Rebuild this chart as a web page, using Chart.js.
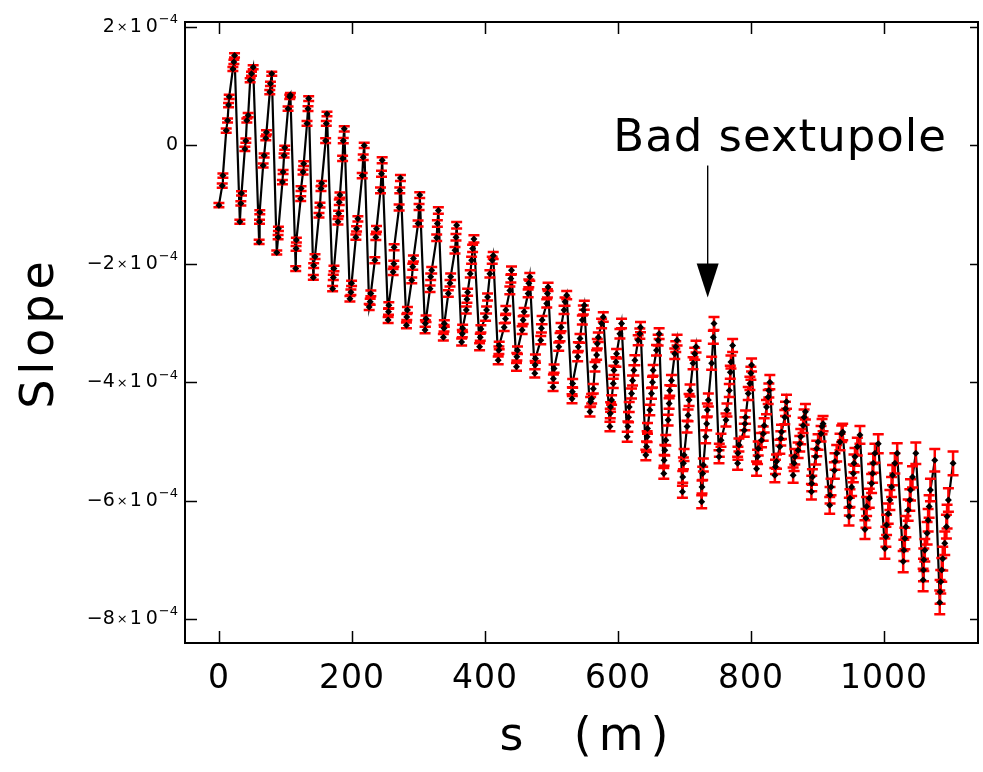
<!DOCTYPE html>
<html><head><meta charset="utf-8">
<script src="https://cdn.jsdelivr.net/npm/chart.js@4.4.1/dist/chart.umd.min.js"></script>
<style>html,body{margin:0;padding:0;background:#fff;overflow:hidden}canvas{display:block}</style>
</head><body>
<canvas id="c" width="983" height="772"></canvas>
<script>
// Positions along the ring (m), grouped by cell
const sByCell = [
 [0,5,6,11,13,14.5,15.5,21,22.5,23.5],
 [31.5,33,34,39,40.5,42,44,47,49,51.5],
 [60.5,61,61.5,66.5,68,70.5,71.5,76.5,77.5,79.5],
 [87,89,89.5,95.5,96.5,98,99,104,106.5,107.5],
 [115.5,116,116.5,123,123.5,126.5,127.5,132.5,134,135],
 [142,142.5,144.5,150.5,152,153.5,154.5,160.5,161.5,162.5],
 [171,172,173,179,180,181,182,186,187,188.5],
 [197,198.5,199.5,206,207,209,215.5,217,218.5],
 [226,227.5,228.5,234.5,236,237,243,244.5,245.5],
 [254.5,255,255.5,262,263,263.5,271,272,273],
 [282,282.5,283.5,290,291.5,292.5,299.5,301,302],
 [310,310.5,311.5,317.5,318.5,320,327.5,328.5,330],
 [337.5,338.5,339,345,347.5,348.5,355,356.5,357.5],
 [365,366,366.5,372,373,374,378,380,381.5,383.5],
 [392,393,394,401,402.5,404,407.5,411,412.5],
 [420,421,421.5,429,431,431.5,437.5,439,440],
 [447.5,448,449,456,457.5,459,465,466,467.5],
 [475,475.5,476,484,485,486,493,494,495],
 [502.5,503,504,511,513,514.5,519,520.5,523],
 [531,531.5,532,539.5,540.5,543,546.5,548,549.5],
 [558,559,560.5,563,565.5,568,569,570.5,575.5,578],
 [588,588.5,589,590.5,593,594,597,598,603,605.5],
 [614,615,616,617,620.5,622,624,625.5,630.5,633,634],
 [642,643,644,644.5,648,650.5,652,653,658,660.5,662],
 [669,669.5,670.5,672,675.5,677,678,680.5,685.5,687,689],
 [697,697.5,698.5,699.5,704,705.5,707,708.5,713,715.5,717.5],
 [726,726.5,727.5,728.5,732,733.5,734.5,736,741,743.5,744.5],
 [752,752.5,755,762.5,764,767.5,769,770,772.5],
 [780,780.5,782,790,791,792,796,798.5,800,801],
 [808.5,810,811,816,818.5,820,823.5,826,827,828.5],
 [836,837,838.5,843.5,845,846,851,852,853.5],
 [863.5,865,866,871,873.5,875,878.5,880,882],
 [891,891.5,892.5,897.5,899,901,905.5,907,908.5],
 [918.5,919,920.5,925.5,926.5,929,934,936.5,938],
 [947.5,948,949,951.5,954,955,956.5,960,964],
 [971.5,973,974,978,981.5,983,984,986.5,991.5],
 [1001.5,1003,1004,1006.5,1009,1011.5,1013,1016.5,1020],
 [1029,1030,1031.5,1033,1036.5,1039,1040,1043,1048],
 [1059,1059.5,1060,1061.5,1065,1066.5,1068,1070,1076.5],
 [1084,1084.5,1085.5,1087,1088.5,1091.5,1094,1095,1097,1104]
];
// Slope values, in units of 1e-4, grouped by cell
const slopeByCell = [
 [-1.01,-0.68,-0.51,0.25,0.42,0.68,0.82,1.29,1.41,1.52],
 [-1.29,-0.98,-0.81,-0.06,0.08,0.42,0.51,1.10,1.21,1.32],
 [-1.63,-1.29,-1.13,-0.34,-0.17,0.12,0.22,0.90,1.04,1.21],
 [-1.81,-1.55,-1.41,-0.62,-0.45,-0.17,-0.04,0.62,0.82,0.85],
 [-2.08,-1.74,-1.60,-0.90,-0.73,-0.45,-0.31,0.37,0.62,0.79],
 [-2.23,-2.03,-1.88,-1.18,-1.01,-0.73,-0.64,0.08,0.37,0.53],
 [-2.42,-2.23,-2.08,-1.29,-1.15,-0.96,-0.84,-0.22,0.08,0.28],
 [-2.59,-2.48,-2.33,-1.55,-1.41,-1.24,-0.51,-0.20,0.00],
 [-2.73,-2.64,-2.50,-1.94,-1.55,-1.41,-0.76,-0.48,-0.25],
 [-2.95,-2.81,-2.70,-2.14,-2.00,-1.72,-1.05,-0.76,-0.55],
 [-3.04,-2.90,-2.78,-2.28,-2.05,-1.91,-1.32,-1.04,-0.84],
 [-3.12,-3.01,-2.93,-2.42,-2.22,-2.11,-1.56,-1.32,-1.10],
 [-3.24,-3.09,-3.01,-2.50,-2.33,-2.22,-1.77,-1.55,-1.35],
 [-3.32,-3.18,-3.09,-2.78,-2.60,-2.48,-2.17,-1.94,-1.74,-1.58],
 [-3.40,-3.24,-3.10,-2.90,-2.78,-2.56,-2.17,-1.94,-1.86],
 [-3.63,-3.46,-3.38,-3.07,-2.93,-2.78,-2.45,-2.25,-2.11],
 [-3.74,-3.57,-3.46,-3.12,-2.95,-2.81,-2.50,-2.33,-2.22],
 [-3.85,-3.71,-3.60,-3.29,-3.09,-2.95,-2.67,-2.50,-2.39],
 [-4.08,-3.94,-3.77,-3.40,-3.24,-3.07,-2.78,-2.64,-2.53],
 [-4.28,-4.16,-4.02,-3.57,-3.40,-3.26,-2.95,-2.78,-2.70],
 [-4.50,-4.33,-4.28,-4.11,-3.74,-3.54,-3.35,-3.24,-3.01,-2.90],
 [-4.75,-4.53,-4.42,-4.30,-4.02,-3.80,-3.66,-3.52,-3.18,-3.01],
 [-4.92,-4.75,-4.59,-4.42,-4.19,-3.97,-3.80,-3.63,-3.29,-3.18,-3.07],
 [-5.23,-5.09,-4.92,-4.78,-4.47,-4.19,-4.00,-3.80,-3.46,-3.29,-3.18],
 [-5.54,-5.32,-5.15,-4.98,-4.64,-4.36,-4.14,-3.97,-3.52,-3.40,-3.29],
 [-5.85,-5.60,-5.37,-5.23,-4.75,-4.56,-4.30,-4.14,-3.68,-3.52,-3.40],
 [-6.02,-5.77,-5.54,-5.40,-4.92,-4.70,-4.47,-4.30,-3.68,-3.24,-3.01],
 [-5.26,-5.15,-4.98,-4.64,-4.47,-4.14,-3.83,-3.66,-3.38],
 [-5.37,-5.20,-5.06,-4.81,-4.70,-4.59,-4.19,-4.02,-3.85,-3.71],
 [-5.46,-5.26,-5.12,-4.98,-4.87,-4.73,-4.42,-4.25,-4.14,-4.00],
 [-5.57,-5.43,-5.34,-5.09,-4.95,-4.84,-4.59,-4.45,-4.33],
 [-5.57,-5.37,-5.26,-5.15,-5.04,-4.92,-4.73,-4.59,-4.50],
 [-5.85,-5.71,-5.60,-5.26,-5.12,-5.01,-4.87,-4.75,-4.70],
 [-6.08,-5.91,-5.77,-5.49,-5.34,-5.20,-5.01,-4.87,-4.84],
 [-6.27,-6.10,-5.96,-5.77,-5.54,-5.37,-5.26,-5.09,-4.89],
 [-6.49,-6.30,-6.10,-5.96,-5.71,-5.54,-5.37,-5.20,-5.04],
 [-6.81,-6.61,-6.41,-6.22,-5.99,-5.77,-5.57,-5.37,-5.20],
 [-7.03,-6.84,-6.64,-6.44,-6.16,-5.99,-5.82,-5.60,-5.20],
 [-7.34,-7.17,-7.00,-6.84,-6.55,-6.33,-6.10,-5.82,-5.32],
 [-7.72,-7.54,-7.37,-7.17,-6.98,-6.72,-6.44,-6.27,-5.99,-5.37]
];
// Measurement error (half height, units of 1e-4) per cell
const sigmaByCell = [
 0.035,0.035,0.035,0.035,0.04, 0.04,0.045,0.045,0.05,0.05,
 0.05,0.055,0.055,0.06,0.06, 0.065,0.065,0.07,0.07,0.075,
 0.08,0.08,0.085,0.09,0.09, 0.1,0.11,0.11,0.11,0.12,
 0.12,0.13,0.13,0.14,0.15, 0.16,0.17,0.18,0.19,0.2
];
const xTickValues = [0,200,400,600,800,1000];
const xTickLabels = ['0','200','400','600','800','1000'];
const yTickValues = [2,0,-2,-4,-6,-8];
const yTickMantissa = ['2','0','\u22122','\u22124','\u22126','\u22128'];
const xTitle = 's  (m)';
const yTitle = 'Slope';
const annotationText = 'Bad sextupole';
const arrowS = 735;          // arrow location along s (m)
const arrowFrom = -0.34;     // arrow tail (1e-4)
const arrowTo = -2.57;       // arrow tip (1e-4)
const annotationS = 844;     // text centre (m)
const annotationY = -0.09;   // text baseline (1e-4)

const points = [];
sByCell.forEach((arr, c) => arr.forEach((s, i) => points.push({x: s, y: slopeByCell[c][i], e: sigmaByCell[c]})));

const FONT = '"DejaVu Sans", "Liberation Sans", sans-serif';

function drawPieces(ctx, pieces, xRight, y) {
  let total = 0;
  pieces.forEach(p => { ctx.font = p.font; p.w = ctx.measureText(p.t).width; total += p.w + (p.gap || 0); });
  let x = xRight - total;
  ctx.textAlign = 'left'; ctx.textBaseline = 'middle';
  pieces.forEach(p => { x += (p.gap || 0); ctx.font = p.font; ctx.fillText(p.t, x, y + (p.dy || 0)); x += p.w; });
}

function spaced(ctx, px) { if ('letterSpacing' in ctx) ctx.letterSpacing = px + 'px'; }

const decor = {
  id: 'decor',
  beforeDatasetDraw(chart, args) {
    if (args.index !== 0) return;
    const ctx = chart.ctx, xs = chart.scales.x, ys = chart.scales.y;
    ctx.save();
    ctx.strokeStyle = '#ff0000'; ctx.lineWidth = 2.5;
    ctx.beginPath();
    for (const p of points) {
      const px = xs.getPixelForValue(p.x);
      const y1 = ys.getPixelForValue(p.y + p.e), y2 = ys.getPixelForValue(p.y - p.e);
      ctx.moveTo(px, y1); ctx.lineTo(px, y2);
      ctx.moveTo(px - 5.5, y1); ctx.lineTo(px + 5.5, y1);
      ctx.moveTo(px - 5.5, y2); ctx.lineTo(px + 5.5, y2);
    }
    ctx.stroke();
    ctx.restore();
  },
  afterDraw(chart) {
    const ctx = chart.ctx, xs = chart.scales.x, ys = chart.scales.y, a = chart.chartArea;
    ctx.save();
    // frame
    ctx.strokeStyle = '#000'; ctx.lineWidth = 2;
    ctx.strokeRect(a.left, a.top, a.right - a.left, a.bottom - a.top);
    // ticks inside
    ctx.lineWidth = 1.5; ctx.beginPath();
    xTickValues.forEach(v => {
      const px = Math.round(xs.getPixelForValue(v)) + 0.5;
      ctx.moveTo(px, a.bottom); ctx.lineTo(px, a.bottom - 12);
      ctx.moveTo(px, a.top); ctx.lineTo(px, a.top + 12);
    });
    yTickValues.forEach(v => {
      const py = Math.round(ys.getPixelForValue(v)) + 0.5;
      ctx.moveTo(a.left, py); ctx.lineTo(a.left + 12, py);
      ctx.moveTo(a.right, py); ctx.lineTo(a.right - 8, py);
    });
    ctx.stroke();
    // x tick labels
    ctx.fillStyle = '#000';
    spaced(ctx, 1);
    ctx.font = '33px ' + FONT; ctx.textAlign = 'center'; ctx.textBaseline = 'top';
    xTickValues.forEach((v, i) => ctx.fillText(xTickLabels[i], xs.getPixelForValue(v), a.bottom + 20));
    spaced(ctx, 0);
    // y tick labels (scientific)
    const big = '19px ' + FONT, small = '13px ' + FONT;
    yTickValues.forEach((v, i) => {
      const py = ys.getPixelForValue(v);
      const m = yTickMantissa[i];
      const pieces = m === '0' ? [{t: '0', font: big}] : [
        {t: m, font: big}, {t: '\u00d7', font: small, gap: 2, dy: 1},
        {t: '1', font: big, gap: 2}, {t: '0', font: big, gap: 4},
        {t: '\u22124', font: small, gap: 1, dy: -7}];
      drawPieces(ctx, pieces, a.left - 7, py);
    });
    // axis titles
    spaced(ctx, 7);
    ctx.font = '46px ' + FONT; ctx.textAlign = 'center'; ctx.textBaseline = 'alphabetic';
    ctx.fillText(xTitle, (a.left + a.right) / 2 + 6, 750);
    ctx.save();
    ctx.translate(53, (a.top + a.bottom) / 2); ctx.rotate(-Math.PI / 2);
    spaced(ctx, 5);
    ctx.font = '46px ' + FONT;
    ctx.fillText(yTitle, 0, 0);
    ctx.restore();
    // annotation
    const ax = xs.getPixelForValue(arrowS);
    const y0 = ys.getPixelForValue(arrowFrom), yTip = ys.getPixelForValue(arrowTo);
    ctx.lineWidth = 1.4; ctx.beginPath(); ctx.moveTo(ax, y0); ctx.lineTo(ax, yTip - 30); ctx.stroke();
    ctx.beginPath(); ctx.moveTo(ax - 11, yTip - 34); ctx.lineTo(ax + 11, yTip - 34); ctx.lineTo(ax, yTip); ctx.closePath(); ctx.fill();
    spaced(ctx, 1);
    ctx.font = '45px ' + FONT; ctx.textAlign = 'center'; ctx.textBaseline = 'alphabetic';
    ctx.fillText(annotationText, xs.getPixelForValue(annotationS), ys.getPixelForValue(annotationY));
    ctx.restore();
  }
};

new Chart(document.getElementById('c'), {
  type: 'scatter',
  data: {
    datasets: [
      {label: 'model points', data: points, showLine: false, pointStyle: 'rectRot', pointRadius: 3.5,
       backgroundColor: '#000', borderColor: '#000', borderWidth: 0},
      {label: 'model', data: points, showLine: true, borderColor: '#000', borderWidth: 2.2,
       pointRadius: 0, fill: false, tension: 0}
    ]
  },
  options: {
    responsive: false, animation: false, devicePixelRatio: 1,
    layout: {padding: {top: 22, right: 5, left: 0, bottom: 0}},
    plugins: {legend: {display: false}, tooltip: {enabled: false}},
    scales: {
      x: {type: 'linear', min: -51, max: 1141.5, grid: {display: false}, border: {display: false},
          ticks: {display: false}, afterFit: s => { s.height = 129; }},
      y: {type: 'linear', min: -8.405, max: 2.084, grid: {display: false}, border: {display: false},
          ticks: {display: false}, afterFit: s => { s.width = 185; }}
    }
  },
  plugins: [decor]
});
</script>
</body></html>
